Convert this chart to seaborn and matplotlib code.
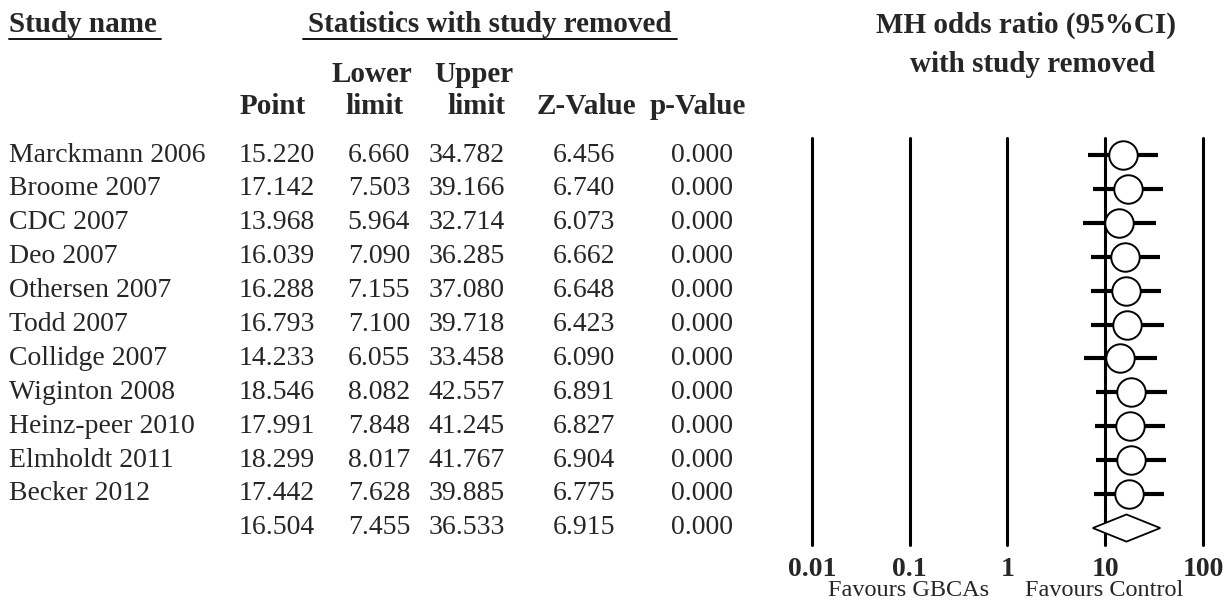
import matplotlib
matplotlib.use("Agg")
import matplotlib.pyplot as plt
import seaborn as sns
import numpy as np
import pandas as pd

# ---------------- data ----------------
studies = ["Marckmann 2006", "Broome 2007", "CDC 2007", "Deo 2007", "Othersen 2007",
           "Todd 2007", "Collidge 2007", "Wiginton 2008", "Heinz-peer 2010",
           "Elmholdt 2011", "Becker 2012"]
point = [15.220, 17.142, 13.968, 16.039, 16.288, 16.793, 14.233, 18.546, 17.991, 18.299, 17.442]
lower = [6.660, 7.503, 5.964, 7.090, 7.155, 7.100, 6.055, 8.082, 7.848, 8.017, 7.628]
upper = [34.782, 39.166, 32.714, 36.285, 37.080, 39.718, 33.458, 42.557, 41.245, 41.767, 39.885]
zvalue = [6.456, 6.740, 6.073, 6.662, 6.648, 6.423, 6.090, 6.891, 6.827, 6.904, 6.775]
pvalue = [0.000] * 11
summary_point = 16.504
summary_lower = 7.455
summary_upper = 36.533
summary_z = 6.915
summary_p = 0.000
xticks = [0.01, 0.1, 1, 10, 100]
xtick_labels = ["0.01", "0.1", "1", "10", "100"]

df = pd.DataFrame({"study": studies, "point": point, "lower": lower,
                   "upper": upper, "z": zvalue, "p": pvalue})
df["row"] = np.arange(len(df))
summary_row = len(df)

# ---------------- figure ----------------
sns.set_theme(style="white")
plt.rcParams["font.family"] = ["Liberation Serif", "DejaVu Serif"]

W, H = 1228, 602
fig = plt.figure(figsize=(W / 100, H / 100), dpi=100)
fig.patch.set_facecolor("white")

# overlay axes in pixel coordinates for the table
tx = fig.add_axes([0, 0, 1, 1])
tx.set_xlim(0, W)
tx.set_ylim(H, 0)
tx.axis("off")

row0, step = 155, 33.9
def ypx(r):
    return row0 + r * step

# headers
hfs = 21
tx.text(9, 25, "Study name", fontsize=hfs, fontweight="bold", ha="left", va="center")
tx.plot([9, 161], [39, 39], color="black", lw=1.3)
tx.text(490, 25, "Statistics with study removed", fontsize=hfs, fontweight="bold",
        ha="center", va="center")
tx.plot([303, 677], [39, 39], color="black", lw=1.3)
tx.text(372, 75, "Lower", fontsize=hfs, fontweight="bold", ha="center", va="center")
tx.text(474, 75, "Upper", fontsize=hfs, fontweight="bold", ha="center", va="center")
tx.text(273, 106, "Point", fontsize=hfs, fontweight="bold", ha="center", va="center")
tx.text(374, 106, "limit", fontsize=hfs, fontweight="bold", ha="center", va="center")
tx.text(476, 106, "limit", fontsize=hfs, fontweight="bold", ha="center", va="center")
tx.text(586, 106, "Z-Value", fontsize=hfs, fontweight="bold", ha="center", va="center")
tx.text(698, 106, "p-Value", fontsize=hfs, fontweight="bold", ha="center", va="center")
tx.text(1026, 25, "MH odds ratio (95%CI)", fontsize=hfs, fontweight="bold",
        ha="center", va="center")
tx.text(1033, 64, "with study removed", fontsize=hfs, fontweight="bold",
        ha="center", va="center")

# table rows
fs = 20
col_right = {"point": 315, "lower": 410, "upper": 505, "z": 615, "p": 733}
for _, r in df.iterrows():
    y = ypx(r["row"])
    tx.text(9, y, r["study"], fontsize=fs, ha="left", va="center")
    for c in ["point", "lower", "upper", "z", "p"]:
        tx.text(col_right[c], y, f"{r[c]:.3f}", fontsize=fs, ha="right", va="center")
ys = ypx(summary_row)
for c, v in zip(["point", "lower", "upper", "z", "p"],
                [summary_point, summary_lower, summary_upper, summary_z, summary_p]):
    tx.text(col_right[c], ys, f"{v:.3f}", fontsize=fs, ha="right", va="center")

tx.text(909, 591, "Favours GBCAs", fontsize=17.5, ha="center", va="center")
tx.text(1104, 591, "Favours Control", fontsize=17.5, ha="center", va="center")

# forest axes
left_px, right_px, top_px, bot_px = 812, 1203, 138, 545
ax = fig.add_axes([left_px / W, 1 - bot_px / H, (right_px - left_px) / W,
                   (bot_px - top_px) / H])
ax.set_xscale("log")
ax.set_xlim(0.01, 100)
ax.patch.set_alpha(0)
for s in ax.spines.values():
    s.set_visible(False)
for t in xticks:
    ax.axvline(t, color="black", lw=2.2, zorder=1, clip_on=False)

ax.hlines(df["row"], df["lower"], df["upper"], color="black", lw=3, zorder=2)
sns.scatterplot(data=df, x="point", y="row", ax=ax, s=420, marker="o",
                facecolor="white", edgecolor="black", linewidth=1.4, zorder=3,
                legend=False)
h = 0.4
ax.fill([summary_lower, summary_point, summary_upper, summary_point],
        [summary_row, summary_row - h, summary_row, summary_row + h],
        facecolor="white", edgecolor="black", lw=1.3, zorder=3)
ax.set_xlim(0.01, 100)
ax.set_ylim(summary_row + 0.5, -0.5)

ax.set_xticks(xticks)
ax.set_xticklabels(xtick_labels, fontsize=20, fontweight="bold")
ax.minorticks_off()
ax.tick_params(axis="x", length=0, pad=9)
ax.set_yticks([])
ax.set_xlabel("")
ax.set_ylabel("")

fig.savefig("out.png", dpi=100, facecolor="white")
